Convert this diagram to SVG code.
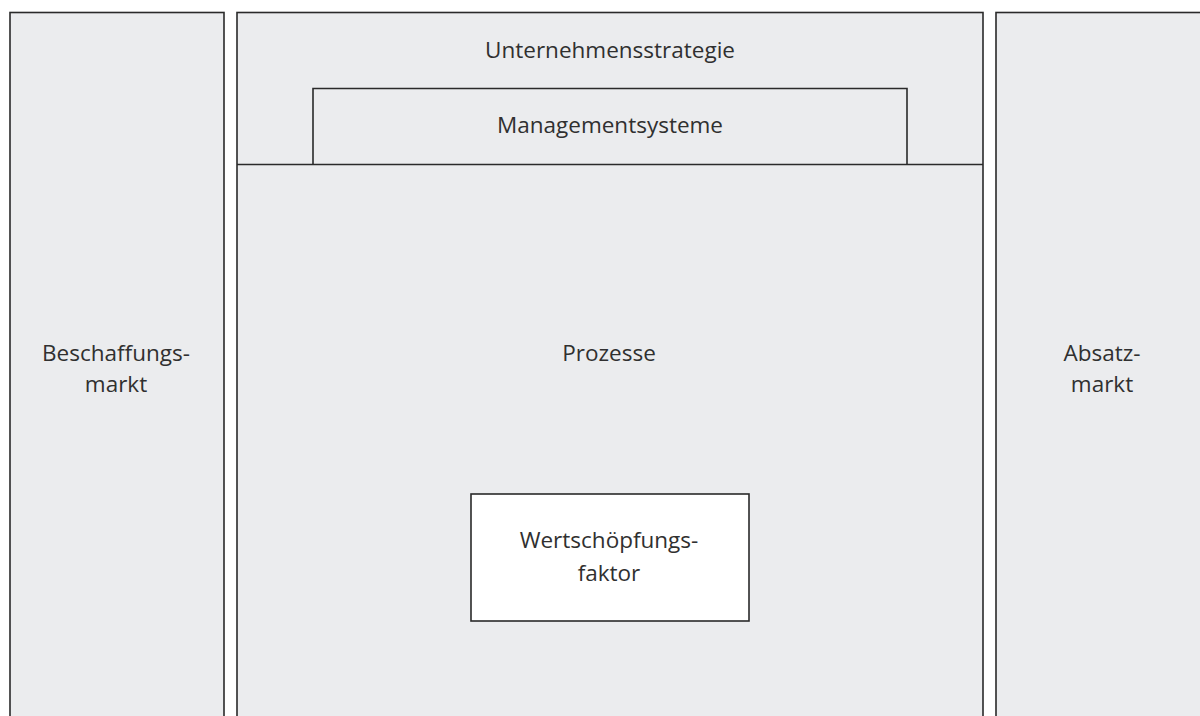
<svg xmlns="http://www.w3.org/2000/svg" width="1200" height="716" viewBox="0 0 1200 716">
<style>
.p{fill:#ebecee;stroke:#2a2a2a;stroke-width:1.6}
.w{fill:#ffffff;stroke:#2a2a2a;stroke-width:1.6}
.l{stroke:#2a2a2a;stroke-width:1.6;fill:none}
text{font-family:"Open Sans","Noto Sans","Liberation Sans",sans-serif;font-size:22.5px;fill:#303030;text-anchor:middle}
</style>
<rect x="0" y="0" width="1200" height="716" fill="#ffffff"/>
<g id="beschaffungsmarkt">
<rect class="p" x="10" y="12.5" width="214" height="720"/>
<text x="116" y="361">Beschaffungs-</text>
<text x="116" y="392">markt</text>
</g>
<g id="unternehmen">
<rect class="p" x="237" y="12.5" width="746" height="720"/>
<text x="610" y="58">Unternehmensstrategie</text>
</g>
<g id="managementsysteme">
<path class="l" d="M313 164.5 V88.5 H907 V164.5"/>
<text x="610" y="133">Managementsysteme</text>
</g>
<g id="prozesse">
<line class="l" x1="237" y1="164.5" x2="983" y2="164.5"/>
<text x="609" y="361">Prozesse</text>
</g>
<g id="wertschoepfungsfaktor">
<rect class="w" x="471" y="494" width="278" height="127"/>
<text x="609" y="548">Wertschöpfungs-</text>
<text x="609" y="581">faktor</text>
</g>
<g id="absatzmarkt">
<rect class="p" x="996" y="12.5" width="214" height="720"/>
<text x="1102" y="361">Absatz-</text>
<text x="1102" y="392">markt</text>
</g>
<g id="connectors"></g>
</svg>
